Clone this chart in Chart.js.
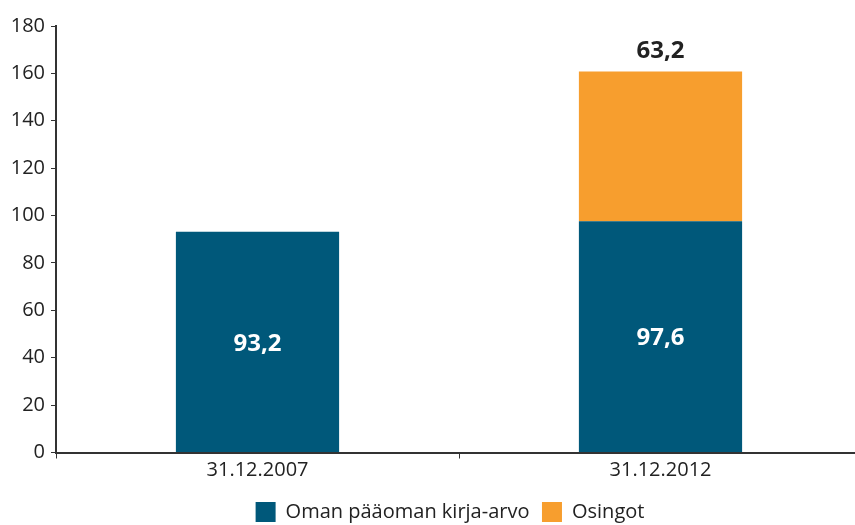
<!DOCTYPE html>
<html>
<head>
<meta charset="utf-8">
<script src="https://cdn.jsdelivr.net/npm/chart.js@4/dist/chart.umd.min.js"></script>
<style>
  html, body { margin: 0; padding: 0; background: #fff; overflow: hidden; }
  #wrap { width: 862px; height: 525px; }
</style>
</head>
<body>
<div id="wrap"><canvas id="myChart" width="862" height="525"></canvas></div>
<script>
// kategoriat ja sarjat
const categories = ['31.12.2007', '31.12.2012'];
const kirjaArvo = [93.2, 97.6];
const osingot = [null, 63.2];
const seriesNames = ['Oman pääoman kirja-arvo', 'Osingot'];
const yTicks = [0, 20, 40, 60, 80, 100, 120, 140, 160, 180];

const fmt = v => v.toFixed(1).replace('.', ',');

// arvot palkkien sisään / päälle
const labelPlugin = {
    id: 'barLabels',
    afterLayout: function(chart) {
        // selite hieman oikealle ja alas kuten alkuperäisessä
        chart.legend.left += 19;
        chart.legend.right += 19;
        chart.legend.top += 7;
        chart.legend.bottom += 7;
    },
    afterDatasetsDraw: function(chart) {
        const ctx = chart.ctx;
        ctx.save();
        ctx.font = 'bold 24px "Open Sans"';
        ctx.textAlign = 'center';
        ctx.textBaseline = 'middle';
        chart.getDatasetMeta(0).data.forEach((bar, i) => {
            ctx.fillStyle = '#ffffff';
            ctx.fillText(fmt(kirjaArvo[i]), bar.x, (bar.y + bar.base) / 2 + 2);
        });
        chart.getDatasetMeta(1).data.forEach((bar, i) => {
            if (osingot[i] == null) return;
            ctx.fillStyle = '#222222';
            ctx.fillText(fmt(osingot[i]), bar.x, bar.y - 20);
        });
        ctx.restore();
    }
};

const ctx = document.getElementById('myChart');
new Chart(ctx, {
    type: 'bar',
    data: {
        labels: categories,
        datasets: [{
            label: seriesNames[0],
            data: kirjaArvo,
            backgroundColor: '#00587a',
            categoryPercentage: 1,
            barPercentage: 0.405
        }, {
            label: seriesNames[1],
            data: osingot,
            backgroundColor: '#f79e2e',
            categoryPercentage: 1,
            barPercentage: 0.405
        }]
    },
    options: {
        responsive: false,
        animation: false,
        layout: { padding: { top: 26, right: 0, left: 0, bottom: 0 } },
        plugins: {
            tooltip: { enabled: false },
            legend: {
                position: 'bottom',
                labels: {
                    color: '#222222',
                    font: { family: '"Open Sans"', size: 20 },
                    boxWidth: 20,
                    boxHeight: 20,
                    padding: 12.5
                }
            }
        },
        scales: {
            x: {
                stacked: true,
                offset: true,
                grid: {
                    offset: true,
                    drawOnChartArea: false,
                    tickLength: 6,
                    color: '#333333'
                },
                border: { color: '#333333', width: 2 },
                ticks: {
                    color: '#222222',
                    font: { family: '"Open Sans"', size: 20 },
                    padding: 0
                }
            },
            y: {
                stacked: true,
                min: 0,
                max: 180,
                afterFit: s => { s.width = 56; },
                afterBuildTicks: s => { s.ticks = yTicks.map(v => ({ value: v })); },
                grid: {
                    drawOnChartArea: false,
                    tickLength: 5,
                    color: '#333333'
                },
                border: { color: '#333333', width: 2 },
                ticks: {
                    color: '#222222',
                    font: { family: '"Open Sans"', size: 20 },
                    padding: 6
                }
            }
        }
    },
    plugins: [labelPlugin]
});
</script>
</body>
</html>
